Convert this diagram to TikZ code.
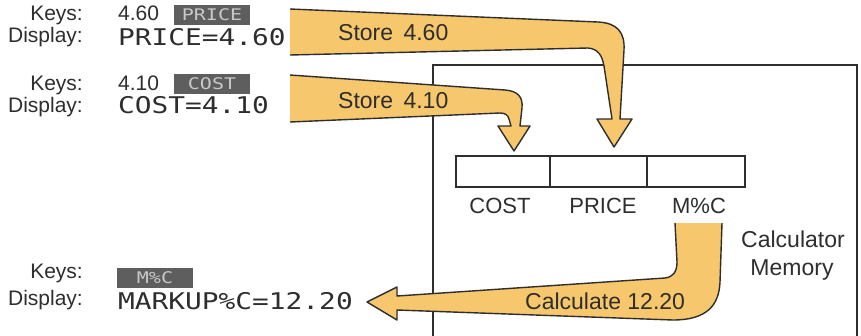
\documentclass[tikz,border=0pt]{standalone}
\usepackage{fontspec}
\setmainfont{Liberation Sans}
\newfontfamily\dispfont[FakeStretch=1.21]{DejaVu Sans Mono}
\newfontfamily\keyfont[FakeStretch=1.25]{DejaVu Sans Mono}
\definecolor{ink}{HTML}{2E2E2E}
\definecolor{ribbon}{HTML}{F6C76C}
\definecolor{keygray}{HTML}{5E5E5E}
\definecolor{keytext}{HTML}{C8C8C8}
\tikzset{
  lbl/.style={font=\fontsize{21}{21}\selectfont, text=ink, inner sep=0},
  biglbl/.style={font=\fontsize{23}{23}\selectfont, text=ink, inner sep=0},
  disp/.style={font=\dispfont\fontsize{23}{23}\selectfont, text=ink, inner sep=0, anchor=base west},
  keybox/.style={fill=keygray, text=keytext, font=\keyfont\fontsize{16}{16}\selectfont, minimum width=76, minimum height=20, inner sep=0},
  ribfill/.style={fill=ribbon},
  ribedge/.style={draw=ink, line width=1.4, line join=round},
  boxline/.style={draw=ink, line width=1.4},
  reg/.style={draw=ink, line width=1.4, minimum height=31, inner sep=0},
}
\begin{document}
\begin{tikzpicture}[x=1pt,y=-1pt]
\useasboundingbox[fill=white] (0,0) rectangle (861,335);

% memory box
\draw[boxline] (433,345) -- (433,65) -- (857,65) -- (857,345);

% arrow 1: Store 4.60
\fill[ribfill] (290,9) -- (598,22) .. controls (617,23) and (625,32) .. (624,50) -- (620,119) -- (632,119) -- (614,147) -- (597,119) -- (612,119) -- (604,66) .. controls (602,55) and (598,49) .. (588,48) -- (290,55) -- cycle;
\draw[ribedge] (290,9) -- (598,22) .. controls (617,23) and (625,32) .. (624,50) -- (620,119) -- (632,119) -- (614,147) -- (597,119) -- (612,119) -- (604,66) .. controls (602,55) and (598,49) .. (588,48) -- (290,55);

% arrow 2: Store 4.10
\fill[ribfill] (290,75) -- (505,90) .. controls (518,91) and (523,97) .. (522,108) -- (520,126) -- (530,126) -- (514,151) -- (498,126) -- (511,126) -- (509,119) .. controls (508,115) and (505,113) .. (500,113) -- (290,122) -- cycle;
\draw[ribedge] (290,75) -- (505,90) .. controls (518,91) and (523,97) .. (522,108) -- (520,126) -- (530,126) -- (514,151) -- (498,126) -- (511,126) -- (509,119) .. controls (508,115) and (505,113) .. (500,113) -- (290,122);

% arrow 3: Calculate 12.20
\fill[ribfill] (722,223) -- (720,282) .. controls (719,306) and (706,320) .. (673,320) -- (397,310) -- (397,320) -- (367,302) -- (397,287) -- (397,296) -- (665,278) .. controls (673,277) and (677,272) .. (677,262) -- (675,223) -- cycle;
\draw[ribedge] (722,223) -- (720,282) .. controls (719,306) and (706,320) .. (673,320) -- (397,310) -- (397,320) -- (367,302) -- (397,287) -- (397,296) -- (665,278) .. controls (673,277) and (677,272) .. (677,262) -- (675,223);

\node[biglbl, anchor=base west] (st1) at (338,40) {Store\hspace{4pt} 4.60};
\node[biglbl, anchor=base west] (st2) at (338,108) {Store\hspace{4pt} 4.10};
\node[biglbl, anchor=base west] (calc) at (525,309) {Calculate 12.20};

% registers
\node[reg, minimum width=94] (rcost) at (503,171.5) {};
\node[reg, minimum width=97] (rprice) at (598.5,171.5) {};
\node[reg, minimum width=98] (rmc) at (696,171.5) {};
\node[lbl, font=\fontsize{22}{22}\selectfont, anchor=base] (lcost) at (500,213) {COST};
\node[lbl, font=\fontsize{22}{22}\selectfont, anchor=base] (lprice) at (603,213) {PRICE};
\node[lbl, font=\fontsize{22}{22}\selectfont, anchor=base] (lmc) at (699,213) {M\%C};
\node[biglbl, anchor=base] (cm1) at (793,247) {Calculator};
\node[biglbl, anchor=base] (cm2) at (792,275) {Memory};

% left column
\node[lbl, anchor=base east] (k1) at (83,20) {Keys:};
\node[lbl, anchor=base east] (d1) at (83,42) {Display:};
\node[lbl, anchor=base west] (n1) at (118,20) {4.60};
\node[keybox] (kb1) at (212,15) {PRICE};
\node[disp] (v1) at (118,45) {PRICE=4.60};

\node[lbl, anchor=base east] (k2) at (83,90) {Keys:};
\node[lbl, anchor=base east] (d2) at (83,112) {Display:};
\node[lbl, anchor=base west] (n2) at (118,90) {4.10};
\node[keybox] (kb2) at (212,84) {COST};
\node[disp] (v2) at (118,113) {COST=4.10};

\node[lbl, anchor=base east] (k3) at (83,278) {Keys:};
\node[lbl, anchor=base east] (d3) at (83,305) {Display:};
\node[keybox] (kb3) at (155,278) {M\%C};
\node[disp] (v3) at (118,309) {MARKUP\%C=12.20};
\end{tikzpicture}
\end{document}
